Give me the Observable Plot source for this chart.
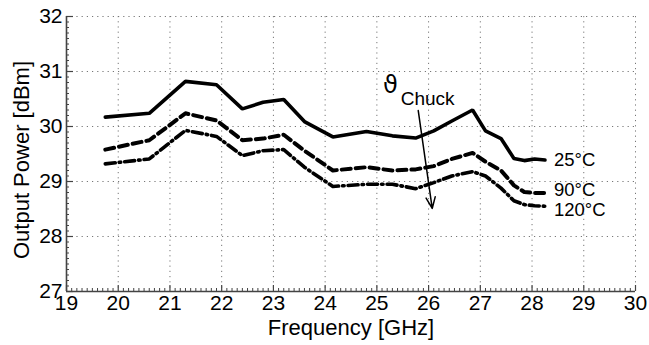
<!DOCTYPE html>
<html>
<head>
<meta charset="utf-8">
<script src="https://cdn.jsdelivr.net/npm/d3@7"></script>
<script src="https://cdn.jsdelivr.net/npm/@observablehq/plot@0.6"></script>
<style>
  html, body { margin: 0; padding: 0; background: #fff; }
  #chart svg { display: block; }
</style>
</head>
<body>
<div id="chart"></div>
<script>
// ---- data ----
const freq = [19.75, 20.6, 21.3, 21.9, 22.4, 22.8, 23.2, 23.6, 24.15, 24.8, 25.3, 25.75, 26.1, 26.45, 26.85, 27.1, 27.4, 27.65, 27.85, 28.05, 28.25];
const p25  = [30.17, 30.24, 30.82, 30.76, 30.32, 30.44, 30.49, 30.09, 29.81, 29.91, 29.83, 29.79, 29.92, 30.10, 30.30, 29.92, 29.78, 29.42, 29.38, 29.41, 29.39];
const p90  = [29.58, 29.75, 30.24, 30.11, 29.75, 29.78, 29.85, 29.56, 29.20, 29.26, 29.20, 29.22, 29.28, 29.41, 29.52, 29.36, 29.20, 28.93, 28.81, 28.79, 28.79];
const p120 = [29.32, 29.41, 29.93, 29.82, 29.47, 29.56, 29.58, 29.26, 28.91, 28.95, 28.95, 28.87, 28.98, 29.10, 29.18, 29.10, 28.88, 28.65, 28.58, 28.56, 28.55];
const seriesNames = ["25°C", "90°C", "120°C"];
const xTicks = [19, 20, 21, 22, 23, 24, 25, 26, 27, 28, 29, 30];
const yTicks = [27, 28, 29, 30, 31, 32];
const xDomain = [19, 30];
const yDomain = [27, 32];
const xLabel = "Frequency [GHz]";
const yLabel = "Output Power [dBm]";
// annotation: arrow for increasing chuck temperature
const arrowData = [{x1: 25.80, y1: 30.29, x2: 26.07, y2: 28.51}];
const thetaAnno = [{x: 25.26, y: 30.75}];
const chuckAnno = [{x: 25.46, y: 30.50}];

// ---- layout / style ----
const W = 649, H = 345;
const mL = 66, mR = 14, mT = 16, mB = 54;
const plotW = W - mL - mR, plotH = H - mT - mB;
const font = "'Liberation Sans', Arial, Helvetica, sans-serif";

const mk = (vals) => freq.map((f, i) => ({f, p: vals[i]}));
const s25 = mk(p25), s90 = mk(p90), s120 = mk(p120);
const lastOf = (s) => [s[s.length - 1]];

const minorX = d3.range(190, 301).map(d => d / 10).filter(d => Math.abs(d - Math.round(d)) > 1e-6);
const minorY = d3.range(270, 321).map(d => d / 10).filter(d => Math.abs(d - Math.round(d)) > 1e-6);

const axisColor = "#444";

const chart = Plot.plot({
  width: W, height: H,
  marginLeft: mL, marginRight: mR, marginTop: mT, marginBottom: mB,
  x: {domain: xDomain, axis: null},
  y: {domain: yDomain, axis: null},
  style: {fontFamily: font, background: "#fff", color: "#000", overflow: "visible"},
  marks: [
    // dotted grid
    Plot.ruleX(xTicks.filter(d => d !== xDomain[0]), {x: d => d, stroke: "#777", strokeWidth: 1, strokeDasharray: "1.2,4"}),
    Plot.ruleY(yTicks.filter(d => d !== yDomain[0]), {y: d => d, stroke: "#777", strokeWidth: 1, strokeDasharray: "1.2,4"}),
    // minor ticks
    Plot.ruleX(minorX, {x: d => d, insetTop: plotH - 3, stroke: axisColor, strokeWidth: 1}),
    Plot.ruleY(minorY, {y: d => d, insetRight: plotW - 3, stroke: axisColor, strokeWidth: 1}),
    // major ticks
    Plot.ruleX(xTicks, {x: d => d, insetTop: plotH - 6, stroke: axisColor, strokeWidth: 1.2}),
    Plot.ruleY(yTicks, {y: d => d, insetRight: plotW - 7, stroke: axisColor, strokeWidth: 1.2}),
    // axis lines
    Plot.ruleX([xDomain[0]], {x: d => d, stroke: axisColor, strokeWidth: 1.6}),
    Plot.ruleY([yDomain[0]], {y: d => d, stroke: axisColor, strokeWidth: 1.6}),
    // tick labels
    Plot.text(xTicks, {x: d => d, frameAnchor: "bottom", dy: 18, textAnchor: "middle", text: d => String(d), fontSize: 21, fill: "#000"}),
    Plot.text(yTicks, {y: d => d, frameAnchor: "left", dx: -4, textAnchor: "end", text: d => String(d), fontSize: 21, fill: "#000"}),
    // axis labels
    Plot.text([xLabel], {frameAnchor: "bottom", dy: 43, textAnchor: "middle", text: d => d, fontSize: 22, fill: "#000"}),
    Plot.text([yLabel], {frameAnchor: "left", dx: -45, dy: 6, rotate: -90, textAnchor: "middle", text: d => d, fontSize: 22, fill: "#000"}),
    // series
    Plot.line(s25, {x: "f", y: "p", stroke: "#000", strokeWidth: 3.6, strokeLinejoin: "miter"}),
    Plot.line(s90, {x: "f", y: "p", stroke: "#000", strokeWidth: 4, strokeDasharray: "9,5"}),
    Plot.line(s120, {x: "f", y: "p", stroke: "#000", strokeWidth: 3.6, strokeDasharray: "10,4,1.5,4"}),
    // series labels at the line ends
    Plot.text(lastOf(s25), {x: "f", y: "p", dx: 9, dy: 0, text: () => seriesNames[0], textAnchor: "start", fontSize: 18.5, fill: "#000"}),
    Plot.text(lastOf(s90), {x: "f", y: "p", dx: 9, dy: -2.5, text: () => seriesNames[1], textAnchor: "start", fontSize: 18.5, fill: "#000"}),
    Plot.text(lastOf(s120), {x: "f", y: "p", dx: 9, dy: 3.5, text: () => seriesNames[2], textAnchor: "start", fontSize: 18.5, fill: "#000"}),
    // arrow annotation
    Plot.arrow(arrowData, {x1: "x1", y1: "y1", x2: "x2", y2: "y2", stroke: "#000", strokeWidth: 1.5, headLength: 12, headAngle: 45}),
    Plot.text(thetaAnno, {x: "x", y: "y", text: () => "ϑ", fontSize: 24, fill: "#000", fontFamily: "'DejaVu Sans', sans-serif"}),
    Plot.text(chuckAnno, {x: "x", y: "y", text: () => "Chuck", textAnchor: "start", fontSize: 19, fill: "#000"})
  ]
});
document.getElementById("chart").appendChild(chart);
</script>
</body>
</html>
